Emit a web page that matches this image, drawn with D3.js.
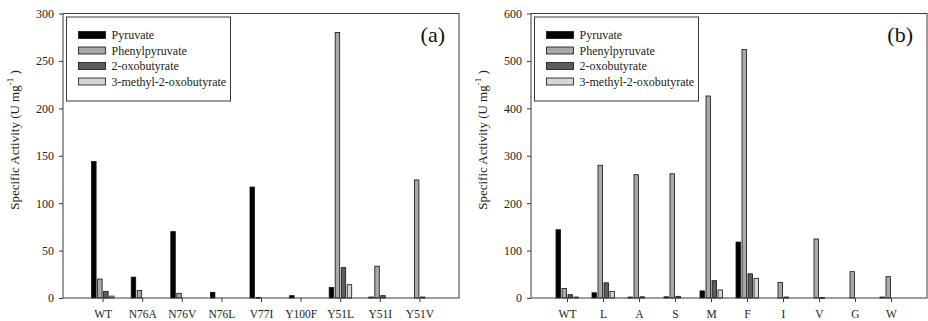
<!DOCTYPE html>
<html>
<head>
<meta charset="utf-8">
<script src="https://cdn.jsdelivr.net/npm/d3@7"></script>
<style>
  body { margin: 0; background: #fff; }
  svg { display: block; font-family: "Liberation Serif", "Times New Roman", serif; }
</style>
</head>
<body>
<div id="chart"></div>
<script>
// series names + fill colours (legend order)
const seriesNames = ["Pyruvate", "Phenylpyruvate", "2-oxobutyrate", "3-methyl-2-oxobutyrate"];
const seriesColors = ["#000000", "#a9a9a9", "#5c5c5c", "#d6d6d6"];

// panel (a)
const catsA = ["WT", "N76A", "N76V", "N76L", "V77I", "Y100F", "Y51L", "Y51I", "Y51V"];
const pyruvateA = [144, 22, 70, 6, 117, 2.5, 11, 1, 0];
const phenylA = [20, 8, 5, 0, 0.6, 0, 280, 33.5, 124.5];
const oxobutA = [7, 0, 0, 0, 0, 0, 32, 2.5, 1];
const methylA = [2, 0, 0, 0, 0, 0, 14, 0, 0];
const ticksA = [0, 50, 100, 150, 200, 250, 300];

// panel (b)
const catsB = ["WT", "L", "A", "S", "M", "F", "I", "V", "G", "W"];
const pyruvateB = [144, 11, 2, 2.5, 15, 118, 0, 0, 0, 2];
const phenylB = [20, 280, 260, 262, 426, 524, 33, 124.5, 55.5, 45];
const oxobutB = [7, 32, 2.5, 3.5, 36.5, 51, 2, 1, 0, 0];
const methylB = [2, 14, 0, 0, 17, 41.5, 0, 0, 0, 0];
const ticksB = [0, 100, 200, 300, 400, 500, 600];

const W = 928, H = 321;
const svg = d3.select("#chart").append("svg")
  .attr("width", W)
  .attr("height", H);

function drawPanel(cfg) {
  const g = svg.append("g");
  const left = cfg.left, right = cfg.right, top = 13.5, bottom = 298;

  const x = d3.scalePoint()
    .domain(cfg.cats)
    .range([left, right])
    .padding(1);

  const inner = d3.scaleBand()
    .domain(seriesNames)
    .range([-11, 11.5])
    .paddingInner(0.25);

  const y = d3.scaleLinear()
    .domain([0, cfg.yMax])
    .range([bottom, top]);

  const values = [cfg.pyr, cfg.phe, cfg.oxo, cfg.met];

  // bars
  seriesNames.forEach((s, si) => {
    const rows = cfg.cats.map((c, i) => ({ cat: c, v: values[si][i] }))
      .filter(d => d.v > 0);
    g.selectAll(null)
      .data(rows)
      .join("rect")
      .attr("x", d => x(d.cat) + inner(s))
      .attr("y", d => y(d.v))
      .attr("width", inner.bandwidth())
      .attr("height", d => Math.max(bottom - y(d.v), 0.8))
      .attr("fill", seriesColors[si])
      .attr("stroke", "#111")
      .attr("stroke-width", 0.8);
  });

  // frame
  g.append("rect")
    .attr("x", left).attr("y", top)
    .attr("width", right - left).attr("height", bottom - top)
    .attr("fill", "none")
    .attr("stroke", "#3a3a3a")
    .attr("stroke-width", 1);

  // y axis
  const yAxis = g.append("g")
    .attr("transform", `translate(${left},0)`)
    .call(d3.axisLeft(y).tickValues(cfg.ticks).tickSize(4).tickSizeOuter(0).tickPadding(5));
  yAxis.select(".domain").remove();
  yAxis.selectAll("line").attr("stroke", "#3a3a3a");
  yAxis.selectAll("text").attr("font-size", 12).attr("fill", "#222")
    .style("font-family", "Liberation Serif");

  // x axis
  const xAxis = g.append("g")
    .attr("transform", `translate(0,${bottom})`)
    .call(d3.axisBottom(x).tickSize(4).tickSizeOuter(0).tickPadding(8));
  xAxis.select(".domain").remove();
  xAxis.selectAll("line").attr("stroke", "#3a3a3a");
  xAxis.selectAll("text").attr("font-size", 11.5).attr("fill", "#222")
    .style("font-family", "Liberation Serif");

  // y axis title
  const t = g.append("text")
    .attr("transform", `translate(${cfg.titleX},140) rotate(-90)`)
    .attr("text-anchor", "middle")
    .attr("font-size", 13)
    .attr("fill", "#222");
  t.append("tspan").text("Specific Activity (U mg");
  t.append("tspan").attr("dy", -6).attr("font-size", 9).text("-1");
  t.append("tspan").attr("dy", 6).text(" )");

  // panel letter
  g.append("text")
    .attr("x", right - 14)
    .attr("y", 42)
    .attr("text-anchor", "end")
    .attr("font-size", 22)
    .attr("fill", "#111")
    .text(cfg.letter);

  // legend
  const lg = g.append("g").attr("transform", `translate(${left + 3.5},17)`);
  lg.append("rect")
    .attr("width", 164).attr("height", 84)
    .attr("fill", "#fff")
    .attr("stroke", "#3a3a3a")
    .attr("stroke-width", 1);
  const items = lg.selectAll("g.item")
    .data(seriesNames)
    .join("g")
    .attr("class", "item")
    .attr("transform", (d, i) => `translate(12,${18 + i * 15.5})`);
  items.append("rect")
    .attr("y", -3.5)
    .attr("width", 27).attr("height", 7)
    .attr("fill", (d, i) => seriesColors[i])
    .attr("stroke", "#111")
    .attr("stroke-width", 0.8);
  items.append("text")
    .attr("x", 33)
    .attr("dy", "0.35em")
    .attr("font-size", 12)
    .attr("fill", "#222")
    .text(d => d);
}

drawPanel({ cats: catsA, pyr: pyruvateA, phe: phenylA, oxo: oxobutA, met: methylA,
  ticks: ticksA, yMax: 300, left: 63, right: 459, titleX: 19, letter: "(a)" });
drawPanel({ cats: catsB, pyr: pyruvateB, phe: phenylB, oxo: oxobutB, met: methylB,
  ticks: ticksB, yMax: 600, left: 531, right: 927, titleX: 487, letter: "(b)" });
</script>
</body>
</html>
